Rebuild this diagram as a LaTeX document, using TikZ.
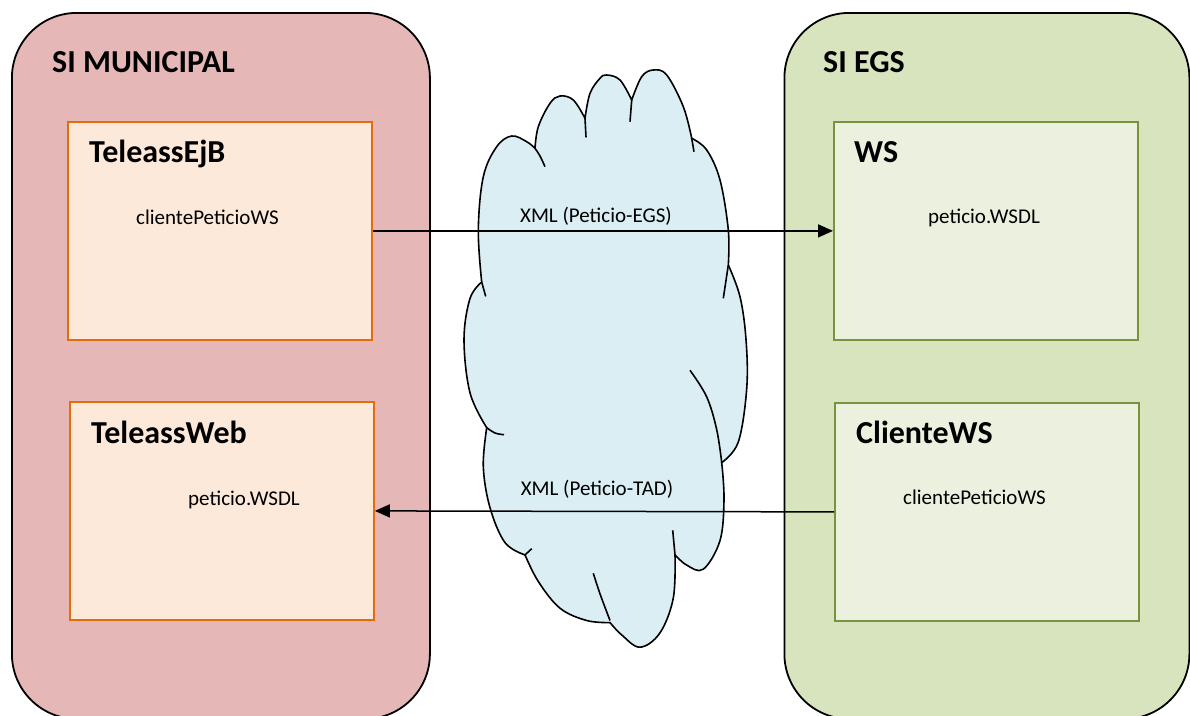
\documentclass[tikz,border=0pt]{standalone}
\usepackage{fontspec}
\setmainfont{Carlito}
\usetikzlibrary{arrows.meta}

\definecolor{munibg}{HTML}{E5B8B7}
\definecolor{egsbg}{HTML}{D7E4BD}
\definecolor{orangeline}{HTML}{E46C0A}
\definecolor{orangefill}{HTML}{FDE9D9}
\definecolor{greenline}{HTML}{77933C}
\definecolor{greenfill}{HTML}{EBF1DE}
\definecolor{cloudfill}{HTML}{DAEEF3}

\begin{document}
\begin{tikzpicture}[x=1pt,y=-1pt,
    system/.style={draw=black,line width=1.8pt,rounded corners=65pt,anchor=north west,minimum height=706pt},
    module/.style={line width=1.8pt,anchor=north west,minimum width=304pt,minimum height=218pt},
    systitle/.style={font=\fontsize{32}{36}\selectfont\bfseries,anchor=base west,inner sep=0pt},
    modtitle/.style={font=\fontsize{32}{36}\selectfont\bfseries,anchor=base west,inner sep=0pt},
    modtext/.style={font=\fontsize{21}{25}\selectfont,anchor=base west,inner sep=0pt},
    flow/.style={line width=1.5pt,-{Triangle[length=15pt,width=13pt]}},
    flowlabel/.style={font=\fontsize{21}{25}\selectfont,anchor=base,inner sep=0pt}]

\useasboundingbox (0,0) rectangle (1190,715);
\clip (0,0) rectangle (1190,715);

% the two information systems
\node[system,fill=munibg,minimum width=418pt] (muni) at (11,12) {};
\node[systitle] (munititle) at (52,72) {SI MUNICIPAL};
\node[system,fill=egsbg,minimum width=405pt] (egs) at (783.5,12) {};
\node[systitle] (egstitle) at (823,72) {SI EGS};

% modules on the municipal side
\node[module,draw=orangeline,fill=orangefill] (ejb) at (67,121) {};
\node[modtitle] (ejbtitle) at (89,162) {TeleassEjB};
\node[modtext] (ejbtext) at (136,224) {clientePeticioWS};
\node[module,draw=orangeline,fill=orangefill] (web) at (69,401) {};
\node[modtitle] (webtitle) at (91,443) {TeleassWeb};
\node[modtext] (webtext) at (188,505) {peticio.WSDL};

% modules on the EGS side
\node[module,draw=greenline,fill=greenfill] (ws) at (833,121) {};
\node[modtitle] (wstitle) at (854,162) {WS};
\node[modtext] (wstext) at (928,223) {peticio.WSDL};
\node[module,draw=greenline,fill=greenfill] (cws) at (834,402) {};
\node[modtitle] (cwstitle) at (856,443) {ClienteWS};
\node[modtext] (cwstext) at (903,504) {clientePeticioWS};

% network cloud
\begin{scope}[line width=1.6pt,tension=0.6]
  \filldraw[fill=cloudfill]
    plot[smooth] coordinates {(481.7,282.1) (478.3,230) (483.3,176.7) (496.7,146.7) (511.7,136) (526.7,141.7) (535,148.3)}
    -- plot[smooth] coordinates {(535,148.3) (538.3,126.7) (550,103.3) (560,96) (573.3,100) (585,118.3)}
    -- plot[smooth] coordinates {(585,118.3) (590,93.3) (600,78.3) (606.7,75) (620,80) (631.7,100)}
    -- plot[smooth] coordinates {(631.7,100) (641.7,76.7) (653.3,70) (666.7,75) (683.3,106.7) (691.7,138.3)}
    -- plot[smooth] coordinates {(691.7,138.3) (706.7,150) (720,180) (728.3,230) (728.3,265)}
    -- plot[smooth] coordinates {(728.3,265) (740,296.7) (746,339.5) (746.7,388.7) (738.3,442) (721.7,462.6)}
    -- plot[smooth] coordinates {(721.7,462.6) (724,499.5) (720,540.5) (703.3,569.2) (686.7,565.1) (675,554.9)}
    -- plot[smooth] coordinates {(675,554.9) (673.3,598) (660,632.8) (640,647.2) (621.7,634.9) (610,622.6)}
    -- plot[smooth] coordinates {(610,622.6) (586.7,620.5) (560,608.2) (538.3,581.5) (525,554.9)}
    -- plot[smooth] coordinates {(525,554.9) (505,542.6) (490,507.7) (483.3,466.7) (486.7,427.7)}
    -- plot[smooth] coordinates {(486.7,427.7) (470,392.8) (464,339.5) (470,298.5) (481.7,282.1)}
    -- cycle;
  % inner arcs of the puffs
  \draw (481.7,282.1) -- (485.7,296.4);
  \draw plot[smooth] coordinates {(535,148.3) (540,156) (545,166.7)};
  \draw (585,118.3) -- (586,137.3);
  \draw (631.7,100) -- (630,121.7);
  \draw (691.7,138.3) -- (694,151.7);
  \draw (728.3,265) -- (723.3,298.3);
  \draw plot[smooth] coordinates {(690,370.3) (706.7,396.9) (716.7,429.7) (721.7,462.6)};
  \draw (675,554.9) -- (672.7,530.3);
  \draw plot[smooth] coordinates {(593.3,573.3) (600,593.8) (610,620.5)};
  \draw (525,554.9) -- (531.7,548.7);
  \draw plot[smooth] coordinates {(486.7,427.7) (495,433) (504,434.7)};
\end{scope}

% messages
\draw[flow] (ejb.east) -- (ws.west);
\node[flowlabel] (egsmsg) at (596,222) {XML (Peticio-EGS)};
\draw[flow] (cws.west) -- (web.east);
\node[flowlabel] (tadmsg) at (597,495) {XML (Peticio-TAD)};

\end{tikzpicture}
\end{document}
